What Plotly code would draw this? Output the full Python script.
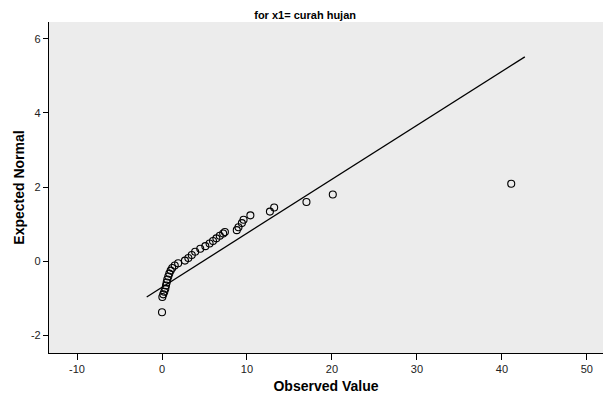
import plotly.graph_objects as go

observed = [0, 0.04, 0.15, 0.27, 0.39, 0.47, 0.55, 0.62, 0.74, 0.86, 1.02, 1.2, 1.5, 1.9,
            2.7, 3.1, 3.5, 3.9, 4.5, 5.1, 5.6, 6.0, 6.4, 6.8, 7.2, 7.4, 8.8, 9.0, 9.4,
            9.6, 10.4, 12.7, 13.2, 17.0, 20.1, 41.1]
expected = [-1.37, -0.96, -0.89, -0.82, -0.74, -0.65, -0.57, -0.49, -0.41, -0.33, -0.25,
            -0.18, -0.11, -0.05, 0.02, 0.09, 0.17, 0.26, 0.34, 0.41, 0.48, 0.55, 0.62,
            0.69, 0.75, 0.79, 0.84, 0.92, 1.03, 1.12, 1.24, 1.34, 1.45, 1.60, 1.80, 2.09]
line_x = [-1.8, 42.7]
line_y = [-0.96, 5.51]
x_ticks = [-10, 0, 10, 20, 30, 40, 50]
x_tick_labels = ["-10", "0", "10", "20", "30", "40", "50"]
y_ticks = [-2, 0, 2, 4, 6]
y_tick_labels = ["-2", "0", "2", "4", "6"]

fig = go.Figure()
fig.add_trace(go.Scatter(x=line_x, y=line_y, mode="lines",
                         line=dict(color="black", width=1.3), showlegend=False,
                         hoverinfo="skip"))
fig.add_trace(go.Scatter(x=observed, y=expected, mode="markers",
                         marker=dict(symbol="circle-open", size=7,
                                     color="black", line=dict(width=1.1, color="black")),
                         showlegend=False))

font_family = "Liberation Sans, Arial, sans-serif"
fig.update_layout(
    width=603, height=402,
    margin=dict(l=49, r=0, t=22, b=49),
    paper_bgcolor="white",
    plot_bgcolor="#ececec",
    font=dict(family=font_family, size=11, color="#222"),
    title=dict(text="<b>for x1= curah hujan</b>", x=0.506, xanchor="center",
               y=1 - 15 / 402, yanchor="middle", font=dict(size=11, color="black")),
    xaxis=dict(range=[-13.3, 51.9], tickvals=x_ticks, ticktext=x_tick_labels,
               ticks="outside", ticklen=6,
               tickcolor="black", showline=True, linecolor="black", linewidth=1.2,
               showgrid=False, zeroline=False, mirror=False,
               tickfont=dict(size=11, color="#222"),
               title=dict(text="<b>Observed Value</b>", font=dict(size=14, color="black"),
                          standoff=6)),
    yaxis=dict(range=[-2.47, 6.45], tickvals=y_ticks, ticktext=y_tick_labels,
               ticks="outside", ticklen=5,
               tickcolor="black", showline=True, linecolor="black", linewidth=1.2,
               showgrid=False, zeroline=False,
               tickfont=dict(size=11, color="#222"),
               title=dict(text="<b>Expected Normal</b>", font=dict(size=14, color="black"),
                          standoff=3)),
)

fig.write_html("out.html")
